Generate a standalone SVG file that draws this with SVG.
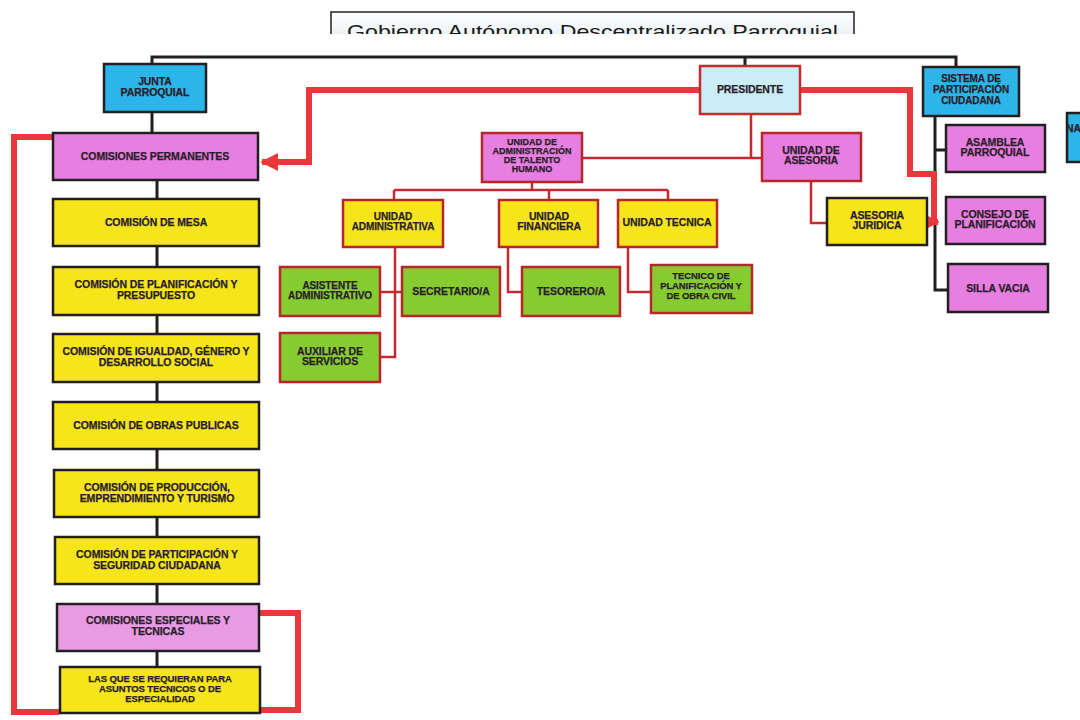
<svg xmlns="http://www.w3.org/2000/svg" width="1080" height="720" viewBox="0 0 1080 720">
<style>
.t{font-family:"Liberation Sans",Arial,sans-serif;font-weight:bold;font-size:10.5px;fill:#2a1d2a;text-anchor:middle;letter-spacing:-0.1px;stroke:#2a1d2a;stroke-width:0.25}
.s{font-size:10px}
.xs{font-size:9px;letter-spacing:0}
.m{font-size:9.5px}
.bk{fill:none;stroke:#231f20;stroke-width:3}
.rt{fill:none;stroke:#c42a2e;stroke-width:2.5}
.rk{fill:none;stroke:#e8383a;stroke-width:6}
.y{fill:#f5e51a;stroke:#231f20;stroke-width:2.5}
.yr{fill:#f5e51a;stroke:#b8262a;stroke-width:2.5}
.p{fill:#e67fe0;stroke:#231f20;stroke-width:2.5}
.pr{fill:#e67fe0;stroke:#b8262a;stroke-width:2.5}
.pl{fill:#e89be2;stroke:#231f20;stroke-width:2.5}
.g{fill:#86cc30;stroke:#b8262a;stroke-width:2.5}
.b{fill:#2bb5e8;stroke:#231f20;stroke-width:2.5}
.c{fill:#cbedf6;stroke:#c42a2e;stroke-width:2.5}
</style>
<defs>
<marker id="ar" viewBox="0 0 10 10" refX="9" refY="5" markerWidth="3" markerHeight="3" orient="auto" markerUnits="strokeWidth">
<path d="M0,0 L10,5 L0,10 z" fill="#e8383a"/>
</marker>
<linearGradient id="tg" x1="0" y1="0" x2="0" y2="1">
<stop offset="0" stop-color="#ffffff"/>
<stop offset="1" stop-color="#dde7f0"/>
</linearGradient>
<clipPath id="tc"><rect x="0" y="0" width="1080" height="34"/></clipPath>
</defs>
<rect width="1080" height="720" fill="#ffffff"/>

<g id="title" clip-path="url(#tc)">
<rect x="331" y="12" width="523" height="40" fill="url(#tg)" stroke="#231f20" stroke-width="1.5"/>
<text x="347" y="38" font-family="Liberation Sans,Arial,sans-serif" font-size="19" fill="#1a1a1a" textLength="491" lengthAdjust="spacingAndGlyphs">Gobierno Autónomo Descentralizado Parroquial</text>
</g>

<g id="connectors">
<path class="bk" d="M152,64 V57 H956 V67 M745,57 V67"/>
<path class="bk" d="M152,112 V133"/>
<path class="bk" d="M157,180 V199 M157,246 V267 M157,315 V334 M157,382 V402 M157,448 V470 M157,517 V537 M157,584 V604 M157,651 V667"/>
<path class="bk" d="M935,116 V290 H948 M935,150 H946"/>
<path class="rt" d="M751,114 V158 M582,158 H762"/>
<path class="rt" d="M532,182 V190 M394,190 H668 M394,190 V200 M549,190 V200 M668,190 V200"/>
<path class="rt" d="M395,247 V357 H380 M380,292 H402"/>
<path class="rt" d="M508,247 V292 H522"/>
<path class="rt" d="M628,247 V292 H651"/>
<path class="rt" d="M811,181 V223 H827"/>
<path class="rk" d="M700,90 H309 V162 H262" marker-end="url(#ar)"/>
<path class="rk" stroke-width="7" d="M800,90 H910 V174 H934 V222 H938" marker-end="url(#ar)"/>
<path class="rk" d="M53,137 H14 V712 H59"/>
<path class="rk" stroke-width="7" d="M259,613 H298 V710 H260"/>
</g>

<g id="junta"><rect class="b" x="104" y="64" width="102" height="48"/><text class="t" x="155" y="85">JUNTA</text><text class="t" x="155" y="96">PARROQUIAL</text></g>
<g id="presidente"><rect class="c" x="700" y="66" width="100" height="48"/><text class="t" x="750" y="93">PRESIDENTE</text></g>
<g id="sistema"><rect class="b" x="923" y="67" width="96" height="49"/><text class="t s" x="971" y="82">SISTEMA DE</text><text class="t s" x="971" y="93">PARTICIPACIÓN</text><text class="t s" x="971" y="104">CIUDADANA</text></g>
<g id="na"><rect class="b" x="1067" y="113" width="20" height="49"/><text class="t" x="1066" y="132" style="text-anchor:start">NA</text></g>

<g id="com-permanentes"><rect class="p" x="53" y="133" width="205" height="47"/><text class="t" x="155" y="160">COMISIONES PERMANENTES</text></g>
<g id="com-mesa"><rect class="y" x="53" y="199" width="206" height="47"/><text class="t" x="156" y="226">COMISIÓN DE MESA</text></g>
<g id="com-planificacion"><rect class="y" x="53" y="267" width="206" height="48"/><text class="t" x="156" y="288">COMISIÓN DE PLANIFICACIÓN Y</text><text class="t" x="156" y="299">PRESUPUESTO</text></g>
<g id="com-igualdad"><rect class="y" x="53" y="334" width="206" height="48"/><text class="t" x="156" y="355">COMISIÓN DE IGUALDAD, GÉNERO Y</text><text class="t" x="156" y="366">DESARROLLO SOCIAL</text></g>
<g id="com-obras"><rect class="y" x="53" y="402" width="206" height="47"/><text class="t" x="156" y="429">COMISIÓN DE OBRAS PUBLICAS</text></g>
<g id="com-produccion"><rect class="y" x="54" y="470" width="205" height="47"/><text class="t" x="157" y="491">COMISIÓN DE PRODUCCIÓN,</text><text class="t" x="157" y="502">EMPRENDIMIENTO Y TURISMO</text></g>
<g id="com-participacion"><rect class="y" x="55" y="537" width="204" height="47"/><text class="t" x="157" y="558">COMISIÓN DE PARTICIPACIÓN Y</text><text class="t" x="157" y="569">SEGURIDAD CIUDADANA</text></g>
<g id="com-especiales"><rect class="pl" x="57" y="604" width="202" height="47"/><text class="t" x="158" y="624">COMISIONES ESPECIALES Y</text><text class="t" x="158" y="635">TECNICAS</text></g>
<g id="las-que"><rect class="y" x="60" y="667" width="200" height="46"/><text class="t m" x="160" y="682">LAS QUE SE REQUIERAN PARA</text><text class="t m" x="160" y="692">ASUNTOS TECNICOS O DE</text><text class="t m" x="160" y="702">ESPECIALIDAD</text></g>

<g id="uath"><rect class="pr" x="482" y="133" width="100" height="49"/><text class="t xs" x="532" y="145">UNIDAD DE</text><text class="t xs" x="532" y="154">ADMINISTRACIÓN</text><text class="t xs" x="532" y="163">DE TALENTO</text><text class="t xs" x="532" y="172">HUMANO</text></g>
<g id="asesoria"><rect class="pr" x="762" y="133" width="99" height="48"/><text class="t" x="811" y="154">UNIDAD DE</text><text class="t" x="811" y="164">ASESORIA</text></g>
<g id="u-admin"><rect class="yr" x="343" y="200" width="100" height="47"/><text class="t s" x="393" y="220">UNIDAD</text><text class="t s" x="393" y="230">ADMINISTRATIVA</text></g>
<g id="u-financiera"><rect class="yr" x="499" y="200" width="99" height="47"/><text class="t" x="549" y="220">UNIDAD</text><text class="t" x="549" y="230">FINANCIERA</text></g>
<g id="u-tecnica"><rect class="yr" x="618" y="200" width="99" height="47"/><text class="t" x="667" y="226">UNIDAD TECNICA</text></g>
<g id="asistente"><rect class="g" x="280" y="267" width="100" height="49"/><text class="t s" x="330" y="289">ASISTENTE</text><text class="t s" x="330" y="299">ADMINISTRATIVO</text></g>
<g id="secretario"><rect class="g" x="402" y="267" width="98" height="49"/><text class="t" x="451" y="295">SECRETARIO/A</text></g>
<g id="auxiliar"><rect class="g" x="280" y="333" width="100" height="49"/><text class="t" x="330" y="355">AUXILIAR DE</text><text class="t" x="330" y="365">SERVICIOS</text></g>
<g id="tesorero"><rect class="g" x="522" y="267" width="98" height="49"/><text class="t" x="571" y="295">TESORERO/A</text></g>
<g id="tecnico"><rect class="g" x="651" y="265" width="101" height="48"/><text class="t m" x="701" y="279">TECNICO DE</text><text class="t m" x="701" y="289">PLANIFICACIÓN Y</text><text class="t m" x="701" y="299">DE OBRA CIVIL</text></g>
<g id="asesoria-juridica"><rect class="y" x="827" y="198" width="100" height="47"/><text class="t" x="877" y="219">ASESORIA</text><text class="t" x="877" y="229">JURIDICA</text></g>
<g id="asamblea"><rect class="p" x="946" y="125" width="99" height="47"/><text class="t" x="995" y="146">ASAMBLEA</text><text class="t" x="995" y="156">PARROQUIAL</text></g>
<g id="consejo"><rect class="p" x="946" y="197" width="99" height="47"/><text class="t" x="995" y="218">CONSEJO DE</text><text class="t" x="995" y="228">PLANIFICACIÓN</text></g>
<g id="silla"><rect class="p" x="948" y="264" width="100" height="48"/><text class="t" x="998" y="292">SILLA VACIA</text></g>
</svg>
